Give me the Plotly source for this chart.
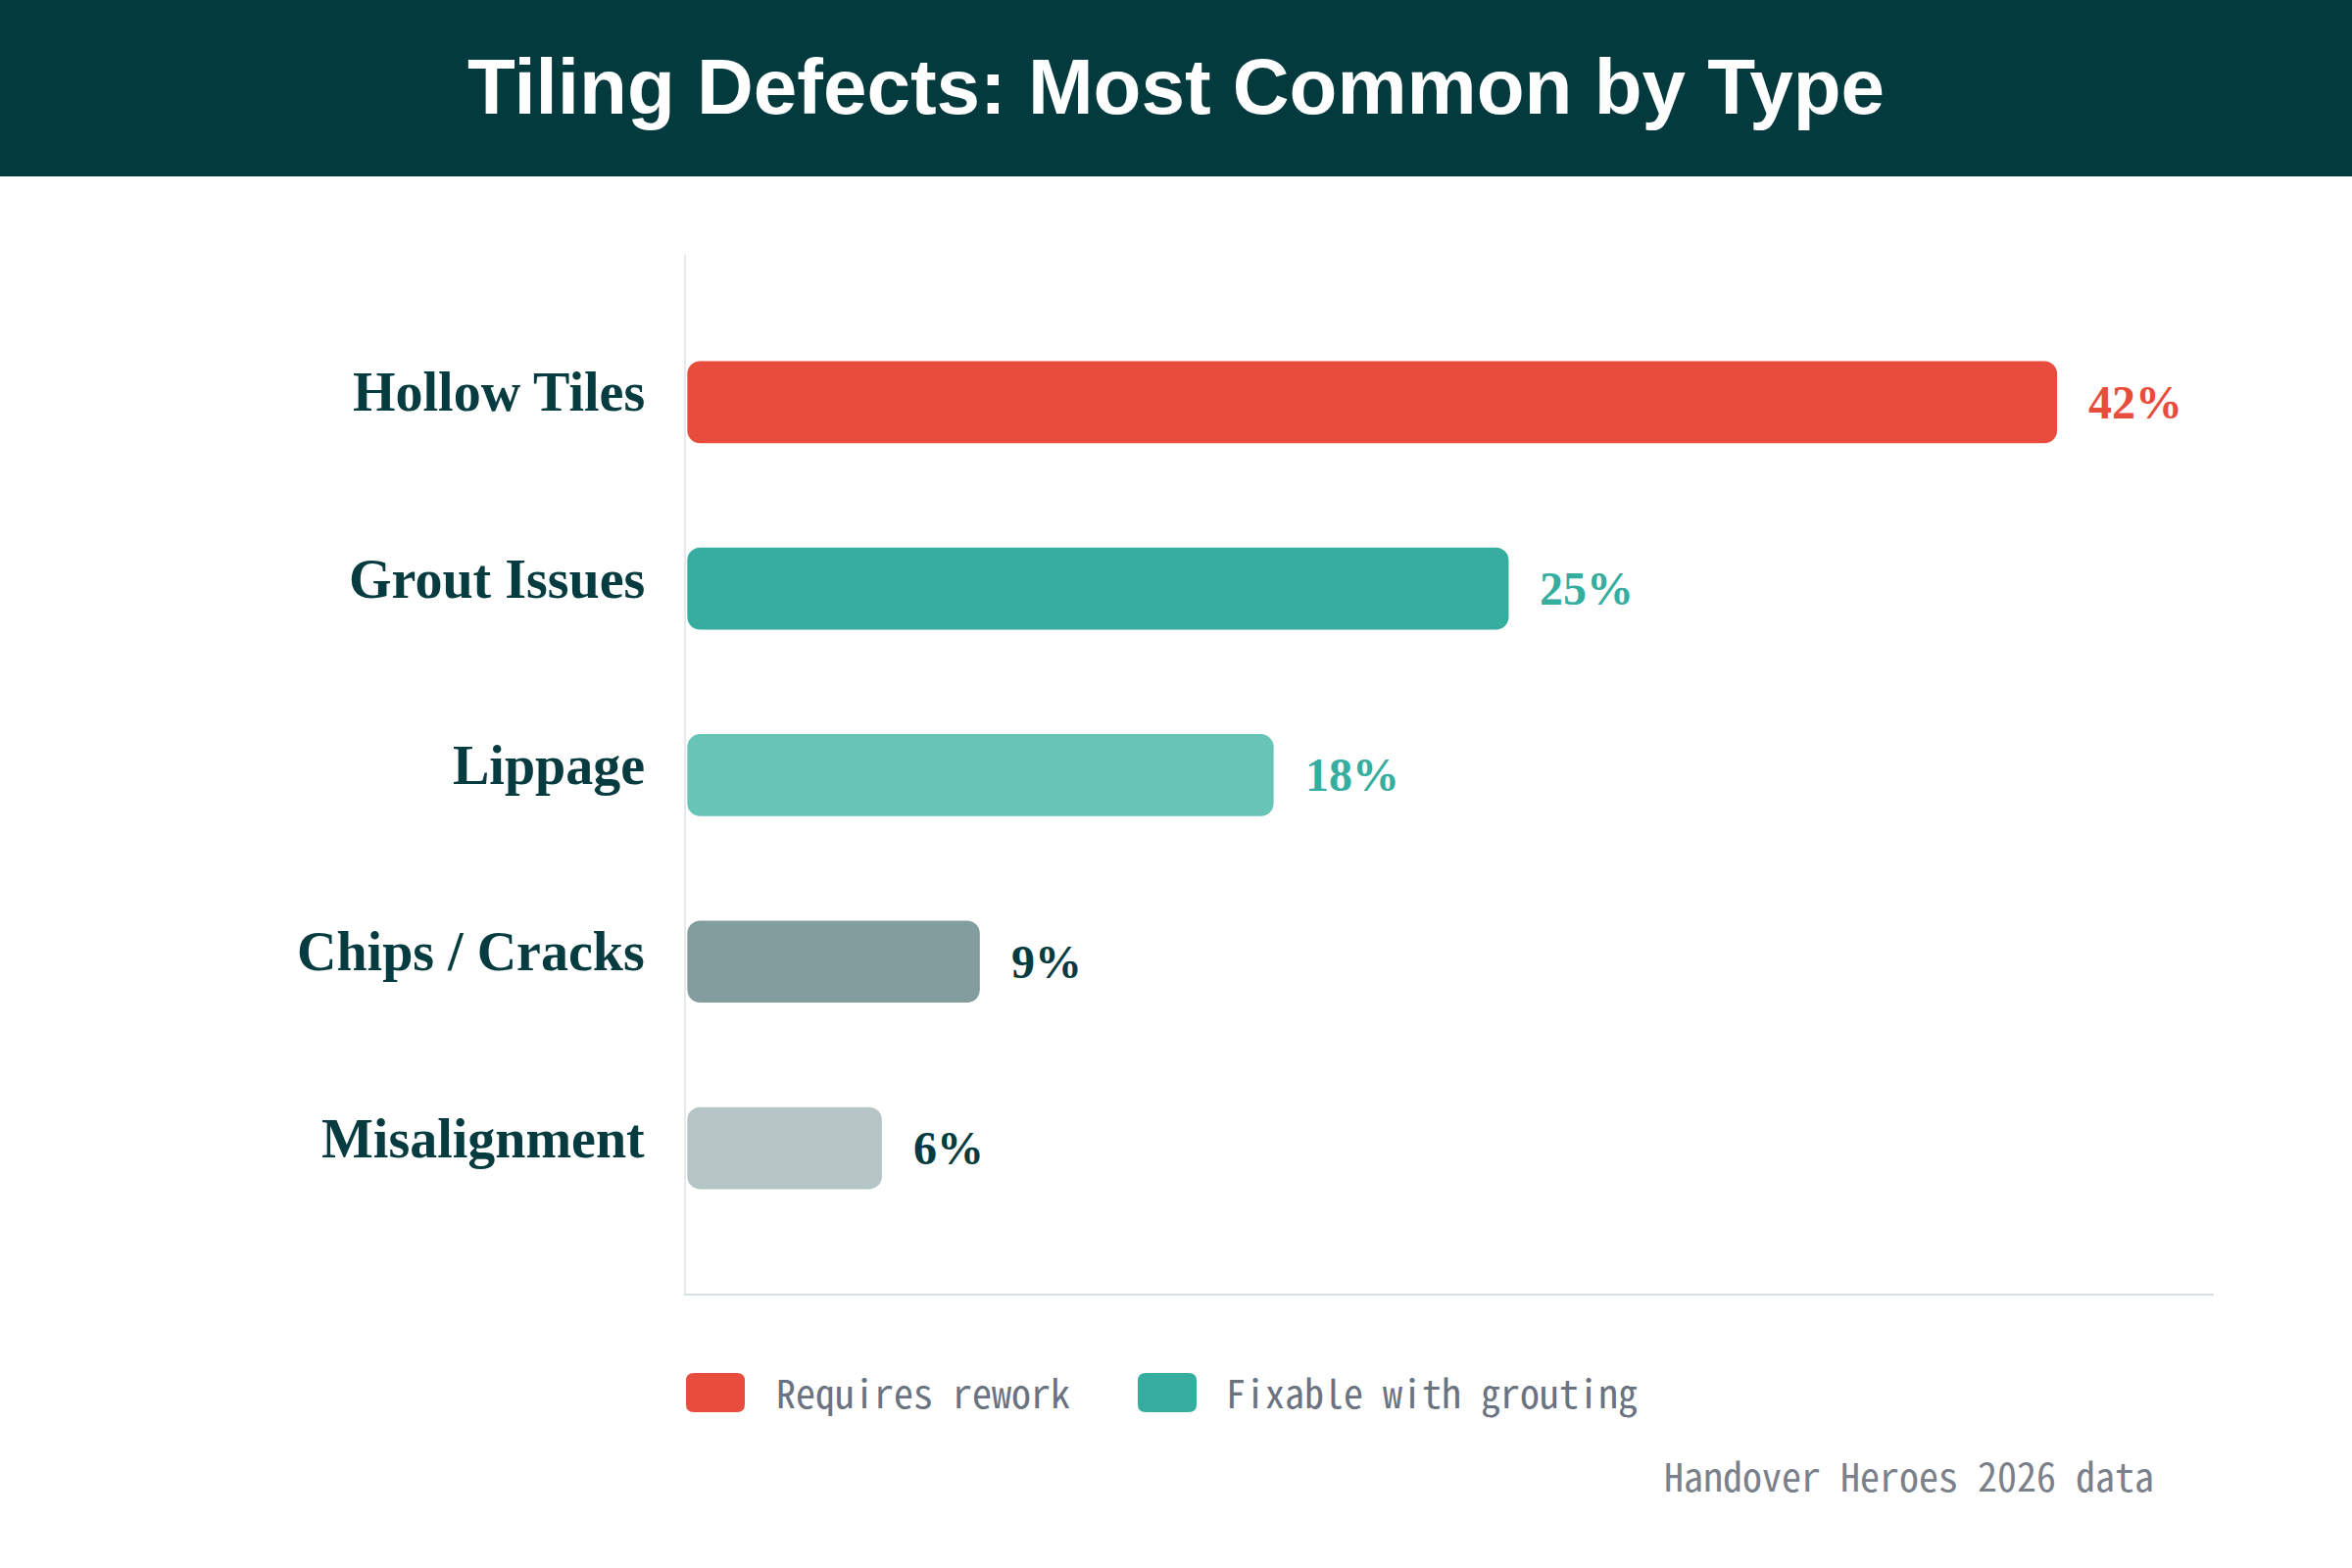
import plotly.graph_objects as go

# data ------------------------------------------------------------------------
categories = ['Hollow Tiles', 'Grout Issues', 'Lippage', 'Chips / Cracks', 'Misalignment']
shares = [42, 25.2, 18, 9, 6]
bar_colors = ['#e74c3c', '#35aea0', '#67c4b6', '#839c9e', '#b5c5c5']
label_colors = ['#e74c3c', '#35aea0', '#35aea0', '#063b3f', '#063b3f']
legend_labels = ['Requires rework', 'Fixable with grouting']
legend_colors = ['#e74c3c', '#35aea0']
title_text = 'Tiling Defects: Most Common by Type'
source_text = 'Handover Heroes 2026 data'

# layout constants (pixels) ---------------------------------------------------
W, H = 2400, 1600
ML, MR, MT, MB = 700, 141, 260, 280
PW, PH = W - ML - MR, H - MT - MB
DARK = '#033a3e'
INK = '#063b3f'
MONO = 'Noto Sans Mono CJK JP, DejaVu Sans Mono, monospace'
# plotly leaves the base corners square when a bar starts exactly at zero;
# a hair of offset gets all four corners rounded like the original
BASE = 0.04


def px_x(x):
    return (x - ML) / PW


def px_y(y):
    return (H - MB - y) / PH


fig = go.Figure()
fig.add_trace(go.Bar(
    y=categories, x=[v - BASE for v in shares], base=[BASE] * len(shares),
    orientation='h', width=0.44,
    marker=dict(color=bar_colors, line=dict(width=0), cornerradius=13),
    customdata=shares, hovertemplate='%{y}: %{customdata:.0f}%<extra></extra>',
    showlegend=False,
))

# category labels (nudged up a little like the original)
for cat in categories:
    fig.add_annotation(
        xref='paper', x=0, y=cat, text=cat, showarrow=False,
        xanchor='right', yanchor='middle', xshift=-40, yshift=10,
        font=dict(family='Liberation Serif', size=56, color=INK, weight='bold'),
    )

# value labels
for cat, v, c in zip(categories, shares, label_colors):
    fig.add_annotation(
        x=v, y=cat, text=f'{v:.0f}%', showarrow=False, xanchor='left', yanchor='middle',
        xshift=30, font=dict(family='Liberation Serif', size=48, color=c, weight='bold'),
    )

# header band
fig.add_shape(type='rect', xref='paper', yref='paper', x0=px_x(-10), x1=px_x(W + 10),
              y0=px_y(180), y1=px_y(-10), fillcolor=DARK, line=dict(width=0), layer='below')

# legend swatches + labels
sw_x = [700, 1161]
tx_x = [790, 1249]
for lbl, col, sx, tx in zip(legend_labels, legend_colors, sw_x, tx_x):
    r = 8
    x0, x1, y0, y1 = sx, sx + 60, 1401, 1441
    path = (
        f'M {px_x(x0 + r)},{px_y(y0)} L {px_x(x1 - r)},{px_y(y0)} '
        f'Q {px_x(x1)},{px_y(y0)} {px_x(x1)},{px_y(y0 + r)} '
        f'L {px_x(x1)},{px_y(y1 - r)} Q {px_x(x1)},{px_y(y1)} {px_x(x1 - r)},{px_y(y1)} '
        f'L {px_x(x0 + r)},{px_y(y1)} Q {px_x(x0)},{px_y(y1)} {px_x(x0)},{px_y(y1 - r)} '
        f'L {px_x(x0)},{px_y(y0 + r)} Q {px_x(x0)},{px_y(y0)} {px_x(x0 + r)},{px_y(y0)} Z'
    )
    fig.add_shape(type='path', xref='paper', yref='paper', path=path,
                  fillcolor=col, line=dict(width=0))
    fig.add_annotation(
        xref='paper', yref='paper', x=px_x(tx), y=px_y(1420), text=lbl,
        showarrow=False, xanchor='left', yanchor='middle',
        font=dict(family=MONO, size=40, color='#6b7280'),
    )

fig.add_annotation(
    xref='paper', yref='paper', x=px_x(2200), y=px_y(1505), text=source_text,
    showarrow=False, xanchor='right', yanchor='middle',
    font=dict(family=MONO, size=40, color='#7b818a'),
)

fig.update_layout(
    width=W, height=H,
    margin=dict(l=ML, r=MR, t=MT, b=MB),
    paper_bgcolor='white', plot_bgcolor='white',
    title=dict(
        text=title_text, x=0.5, xref='container', xanchor='center',
        y=1 - 88 / H, yref='container', yanchor='middle',
        font=dict(family='Liberation Sans', size=80, color='white', weight='bold'),
    ),
    xaxis=dict(
        range=[0, 46.8], showgrid=False, zeroline=False, showticklabels=False,
        showline=True, linecolor='#d7dfe2', linewidth=2, fixedrange=True,
    ),
    yaxis=dict(
        type='category', categoryorder='array', categoryarray=categories,
        range=[4.78, -0.79], showgrid=False, zeroline=False, showticklabels=False,
        showline=True, linecolor='#e6eaeb', linewidth=2, ticks='',
        fixedrange=True,
    ),
    showlegend=False,
)

# drop the default page margin so the header band sits flush with the edges
fig.write_html(
    'out.html',
    config={'displayModeBar': False},
    post_script="document.body.style.margin='0';document.body.style.overflow='hidden';",
)
